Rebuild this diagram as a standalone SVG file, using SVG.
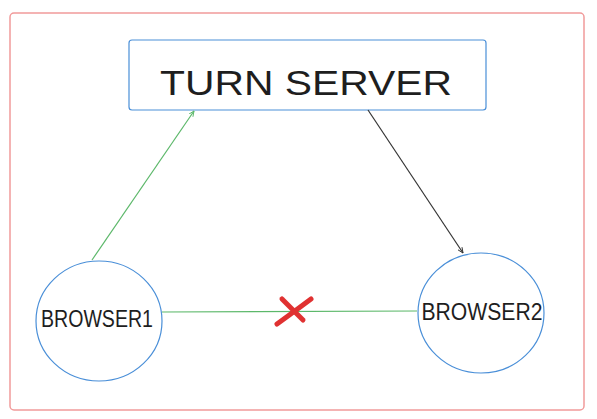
<svg xmlns="http://www.w3.org/2000/svg" width="597" height="419" viewBox="0 0 597 419">
<style>
.node{fill:#ffffff;stroke:#4a8fd8;stroke-width:1.2}
.lbl{font-family:"Liberation Sans",Arial,sans-serif;fill:#1e1e1e;text-anchor:middle}
.g{stroke:#5cb86a;stroke-width:1.2;fill:none}
.k{stroke:#333333;stroke-width:1.2;fill:none}
</style>
<defs>
<marker id="ag" viewBox="0 0 10 10" refX="9" refY="5" markerWidth="6" markerHeight="6" orient="auto" markerUnits="userSpaceOnUse">
<path d="M0,1 L9,5 L0,9" fill="none" stroke="#5cb86a" stroke-width="1.5"/>
</marker>
<marker id="ak" viewBox="0 0 10 10" refX="9" refY="5" markerWidth="6" markerHeight="6" orient="auto" markerUnits="userSpaceOnUse">
<path d="M0,1 L9,5 L0,9" fill="none" stroke="#333333" stroke-width="1.5"/>
</marker>
</defs>
<rect width="597" height="419" fill="#ffffff"/>
<rect x="10" y="13" width="574" height="397" rx="4" fill="none" stroke="#f19a9a" stroke-width="1.5"/>
<g id="turn-server">
<rect class="node" x="129" y="40" width="357" height="70" rx="3"/>
<text class="lbl" x="306" y="95" font-size="35" textLength="292" lengthAdjust="spacingAndGlyphs">TURN SERVER</text>
</g>
<g id="browser1">
<ellipse class="node" cx="99" cy="321" rx="63" ry="60"/>
<text class="lbl" x="97" y="327" font-size="23" textLength="112" lengthAdjust="spacingAndGlyphs">BROWSER1</text>
</g>
<g id="browser2">
<ellipse class="node" cx="481" cy="313" rx="63" ry="60"/>
<text class="lbl" x="482" y="320" font-size="23" textLength="121" lengthAdjust="spacingAndGlyphs">BROWSER2</text>
</g>
<g id="connectors">
<line class="g" x1="92" y1="260" x2="194" y2="111" marker-end="url(#ag)"/>
<line class="k" x1="368" y1="110" x2="463" y2="253" marker-end="url(#ak)"/>
<line class="g" x1="162" y1="312" x2="417" y2="311"/>
<g stroke="#e03131" stroke-width="5" stroke-linecap="round" fill="none">
<path d="M282,299 Q292,309 303,320"/>
<path d="M311,299 Q295,311 277,324"/>
</g>
</g>
</svg>
